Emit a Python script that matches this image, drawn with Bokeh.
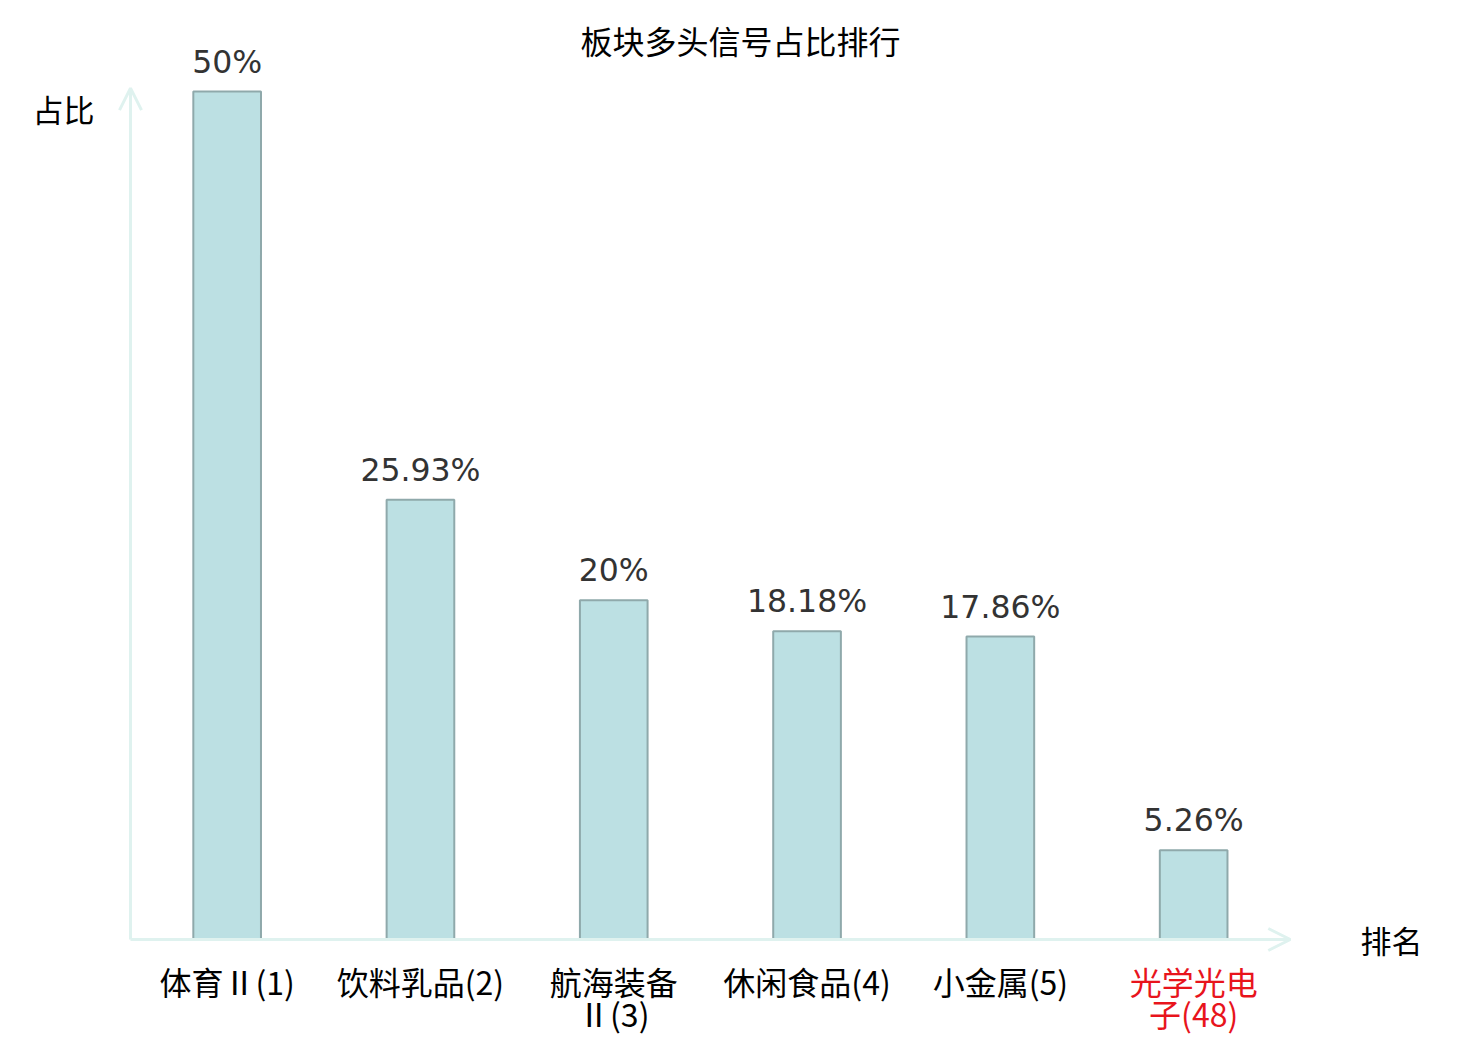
from bokeh.plotting import figure
from bokeh.models import Range1d, Arrow, OpenHead, Label
from bokeh.core.properties import value
from bokeh.embed import file_html
from bokeh.resources import INLINE

# ---- data ----
categories = ["体育Ⅱ(1)", "饮料乳品(2)", "航海装备\nⅡ(3)", "休闲食品(4)", "小金属(5)", "光学光电\n子(48)"]
shares = [50, 25.93, 20, 18.18, 17.86, 5.26]
share_labels = ["50%", "25.93%", "20%", "18.18%", "17.86%", "5.26%"]
label_colors = ["#000000", "#000000", "#000000", "#000000", "#000000", "#e8141c"]
title_text = "板块多头信号占比排行"
y_name = "占比"
x_name = "排名"

W, H = 1472, 1036
# pixel geometry of the plotting area (figure coords)
ox, oy = 130, 939          # origin in figure px (y from top)
band_px = 193.3
unit_px = 16.96

x0 = -ox / band_px
x1 = (W - ox) / band_px
y1 = oy / unit_px
y0 = -(H - oy) / unit_px

p = figure(width=W, height=H, output_backend="svg", toolbar_location=None,
           x_range=Range1d(x0, x1), y_range=Range1d(y0, y1),
           min_border=0, min_border_left=0, min_border_right=0,
           min_border_top=0, min_border_bottom=0)
p.axis.visible = False
p.grid.visible = False
p.outline_line_color = None
p.background_fill_color = "white"

n = len(categories)
xs = [i + 0.5 for i in range(n)]

axis_color = "#dff2ef"
# axes with arrows
p.add_layout(Arrow(end=OpenHead(size=22, line_color=axis_color, line_width=3),
                   x_start=0, y_start=0, x_end=0, y_end=50.2,
                   line_color=axis_color, line_width=3))
p.add_layout(Arrow(end=OpenHead(size=22, line_color=axis_color, line_width=3),
                   x_start=0, y_start=0, x_end=n + 0.0, y_end=0,
                   line_color=axis_color, line_width=3))

p.vbar(x=xs, top=shares, bottom=0, width=0.35,
       fill_color="#bce0e3", line_color="#8fa9ab", line_width=2)

p.text(x=xs, y=shares, text=share_labels, text_align="center",
       text_baseline="alphabetic", y_offset=-30,
       text_font=value("DejaVu Sans"), text_font_size="31.5px", text_color="#333333")

line1 = [c.split("\n")[0] for c in categories]
line2 = [c.split("\n")[1] if "\n" in c else "" for c in categories]
p.text(x=xs, y=[0] * n, text=line1, text_align="center", text_baseline="middle",
       y_offset=41, text_font=value("Noto Sans CJK SC"), text_font_size="32px",
       text_color=label_colors)
p.text(x=xs, y=[0] * n, text=line2, text_align="center", text_baseline="middle",
       y_offset=73, text_font=value("Noto Sans CJK SC"), text_font_size="32px",
       text_color=label_colors)

p.add_layout(Label(x=(740 - ox) / band_px, y=(oy - 39) / unit_px, text=title_text,
                   text_align="center", text_baseline="middle",
                   text_font="Noto Sans CJK SC", text_font_size="32px", text_color="#000000"))
p.add_layout(Label(x=(63 - ox) / band_px, y=(oy - 108) / unit_px, text=y_name,
                   text_align="center", text_baseline="middle",
                   text_font="Noto Sans CJK SC", text_font_size="31px", text_color="#000000"))
p.add_layout(Label(x=(1391 - ox) / band_px, y=(oy - 939) / unit_px, text=x_name,
                   text_align="center", text_baseline="middle",
                   text_font="Noto Sans CJK SC", text_font_size="31px", text_color="#000000"))

open("out.html", "w").write(file_html(p, INLINE))
